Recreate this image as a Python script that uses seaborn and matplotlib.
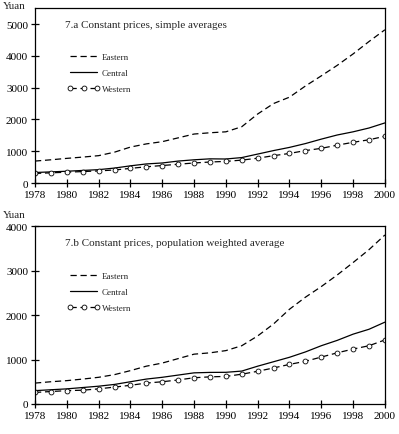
import numpy as np
import pandas as pd
import matplotlib
matplotlib.use("Agg")
import matplotlib.pyplot as plt
import seaborn as sns

years = list(range(1978, 2001))

# 7.a simple averages (yuan)
east_a = [690, 730, 775, 815, 860, 970, 1130, 1230, 1300, 1420, 1540, 1580,
          1610, 1770, 2170, 2500, 2700, 3050, 3370, 3700, 4060, 4450, 4820]
central_a = [330, 350, 370, 395, 420, 470, 540, 600, 630, 690, 730, 760,
             755, 800, 910, 1020, 1120, 1240, 1380, 1510, 1610, 1730, 1890]
west_a = [300, 320, 340, 360, 380, 410, 460, 510, 550, 590, 630, 660,
          680, 720, 780, 860, 930, 1020, 1090, 1190, 1280, 1360, 1470]

# 7.b population weighted averages (yuan)
east_b = [470, 500, 525, 560, 600, 660, 750, 850, 920, 1020, 1120, 1150,
          1200, 1310, 1530, 1800, 2130, 2400, 2640, 2900, 3180, 3470, 3800]
central_b = [300, 320, 340, 370, 400, 440, 500, 560, 600, 650, 700, 710,
             712, 740, 850, 950, 1050, 1170, 1310, 1430, 1570, 1680, 1840]
west_b = [260, 280, 300, 310, 340, 380, 420, 470, 500, 540, 590, 610,
          620, 670, 735, 810, 890, 960, 1055, 1150, 1235, 1310, 1440]

sns.set_theme(style="ticks")
plt.rcParams["font.family"] = ["Liberation Serif", "DejaVu Serif"]
plt.rcParams["axes.linewidth"] = 0.9

fig = plt.figure(figsize=(3.99, 4.35), dpi=100)
ax_a = fig.add_axes([0.0877, 0.577, 0.877, 0.402])
ax_b = fig.add_axes([0.0877, 0.069, 0.877, 0.409])

panels = [
    (ax_a, (east_a, central_a, west_a), "7.a Constant prices, simple averages",
     5500, [0, 1000, 2000, 3000, 4000, 5000], 0.986),
    (ax_b, (east_b, central_b, west_b), "7.b Constant prices, population weighted average",
     4000, [0, 1000, 2000, 3000, 4000], 0.505),
]

for ax, (e, c, w), title, ymax, yt, yuan_y in panels:
    sns.lineplot(x=years, y=e, color="black", linewidth=0.9, ax=ax, label="Eastern")
    ax.lines[-1].set_dashes((5, 3))
    sns.lineplot(x=years, y=c, color="black", linewidth=0.9, ax=ax, label="Central")
    sns.lineplot(x=years, y=w, color="black", linewidth=0.9, ax=ax, label="Western",
                 marker="o", markersize=3.5, markerfacecolor="white",
                 markeredgecolor="black", markeredgewidth=0.6)
    ax.lines[-1].set_dashes((5, 3))
    ax.set_xlim(1978, 2000)
    ax.set_ylim(0, ymax)
    ax.set_xticks(range(1978, 2001, 2))
    ax.set_yticks(yt)
    ax.tick_params(direction="inout", length=6, width=0.9, labelsize=8,
                   colors="black", pad=2)
    ax.set_xlabel("")
    ax.set_ylabel("")
    for s in ax.spines.values():
        s.set_color("black")
    ax.text(0.085, 0.905, title, transform=ax.transAxes, fontsize=8, va="center")
    fig.text(0.008, yuan_y, "Yuan", fontsize=8, va="center", ha="left")
    ax.legend(loc="upper left", bbox_to_anchor=(0.07, 0.79), frameon=False,
              fontsize=6.5, handlelength=3.6, handletextpad=0.2,
              labelspacing=0.85, numpoints=3)

fig.savefig("out.png", dpi=100)
